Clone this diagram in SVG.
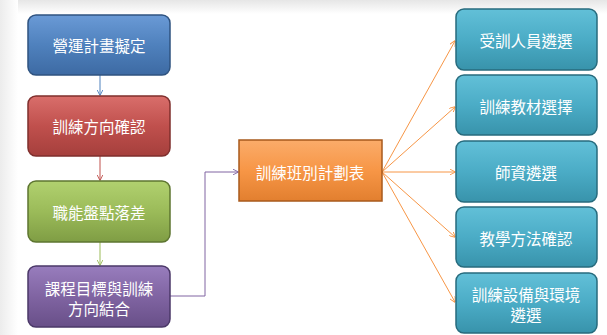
<svg xmlns="http://www.w3.org/2000/svg" width="607" height="335" viewBox="0 0 607 335">
<defs>
<linearGradient id="gb" x1="0" y1="0" x2="0" y2="1"><stop offset="0" stop-color="#6a9ad6"/><stop offset="0.5" stop-color="#4f81bd"/><stop offset="1" stop-color="#3d6aa3"/></linearGradient>
<linearGradient id="gr" x1="0" y1="0" x2="0" y2="1"><stop offset="0" stop-color="#d96e6b"/><stop offset="0.5" stop-color="#c0504d"/><stop offset="1" stop-color="#a53f3c"/></linearGradient>
<linearGradient id="gg" x1="0" y1="0" x2="0" y2="1"><stop offset="0" stop-color="#b1d16f"/><stop offset="0.5" stop-color="#9bbb59"/><stop offset="1" stop-color="#7f9d44"/></linearGradient>
<linearGradient id="gp" x1="0" y1="0" x2="0" y2="1"><stop offset="0" stop-color="#987dbd"/><stop offset="0.5" stop-color="#8064a2"/><stop offset="1" stop-color="#684f88"/></linearGradient>
<linearGradient id="go" x1="0" y1="0" x2="0" y2="1"><stop offset="0" stop-color="#fbac6a"/><stop offset="0.5" stop-color="#f79646"/><stop offset="1" stop-color="#e27f2f"/></linearGradient>
<linearGradient id="gt" x1="0" y1="0" x2="0" y2="1"><stop offset="0" stop-color="#62c0d8"/><stop offset="0.5" stop-color="#4bacc6"/><stop offset="1" stop-color="#3893ab"/></linearGradient>
<linearGradient id="bgtop" x1="0" y1="0" x2="0" y2="1"><stop offset="0" stop-color="#e6e6e6"/><stop offset="1" stop-color="#ffffff"/></linearGradient>
<linearGradient id="bgleft" x1="0" y1="0" x2="1" y2="0"><stop offset="0" stop-color="#ececec"/><stop offset="1" stop-color="#ffffff"/></linearGradient>
<marker id="ab" viewBox="0 0 10 10" refX="9" refY="5" markerWidth="6" markerHeight="6" orient="auto"><path d="M0,0 L10,5 L0,10" fill="none" stroke="#4f81bd" stroke-width="1.5"/></marker>
<marker id="ar" viewBox="0 0 10 10" refX="9" refY="5" markerWidth="6" markerHeight="6" orient="auto"><path d="M0,0 L10,5 L0,10" fill="none" stroke="#c0504d" stroke-width="1.5"/></marker>
<marker id="ag" viewBox="0 0 10 10" refX="9" refY="5" markerWidth="6" markerHeight="6" orient="auto"><path d="M0,0 L10,5 L0,10" fill="none" stroke="#9bbb59" stroke-width="1.5"/></marker>
<marker id="ap" viewBox="0 0 10 10" refX="9" refY="5" markerWidth="6" markerHeight="6" orient="auto"><path d="M0,0 L10,5 L0,10" fill="none" stroke="#8064a2" stroke-width="1.5"/></marker>
<marker id="ao" viewBox="0 0 10 10" refX="9" refY="5" markerWidth="6" markerHeight="6" orient="auto"><path d="M0,0 L10,5 L0,10" fill="none" stroke="#f79646" stroke-width="1.5"/></marker>
</defs>
<style>
.t{font-family:"Noto Sans CJK TC","Noto Sans CJK SC",sans-serif;font-size:15.5px;fill:#ffffff;text-anchor:middle;dominant-baseline:central}
.c{fill:none;stroke-width:1}
</style>
<rect width="607" height="335" fill="#ffffff"/>
<rect x="0" y="0" width="607" height="14" fill="url(#bgtop)"/>
<rect x="0" y="0" width="18" height="335" fill="url(#bgleft)"/>
<g id="connectors">
<line class="c" x1="100" y1="75" x2="100" y2="95" stroke="#4f81bd" marker-end="url(#ab)"/>
<line class="c" x1="100" y1="156" x2="100" y2="180" stroke="#c0504d" marker-end="url(#ar)"/>
<line class="c" x1="100" y1="242" x2="100" y2="265" stroke="#9bbb59" marker-end="url(#ag)"/>
<polyline class="c" points="170,296 205,296 205,172 238,172" stroke="#8064a2" marker-end="url(#ap)"/>
<line class="c" x1="382" y1="172" x2="455" y2="41" stroke="#f79646" marker-end="url(#ao)"/>
<line class="c" x1="382" y1="172" x2="455" y2="107" stroke="#f79646" marker-end="url(#ao)"/>
<line class="c" x1="382" y1="172" x2="455" y2="172" stroke="#f79646" marker-end="url(#ao)"/>
<line class="c" x1="382" y1="172" x2="455" y2="237" stroke="#f79646" marker-end="url(#ao)"/>
<line class="c" x1="382" y1="172" x2="455" y2="302" stroke="#f79646" marker-end="url(#ao)"/>
</g>
<g id="n1"><rect x="28" y="15" width="142" height="60" rx="8" fill="url(#gb)" stroke="#2f5380" stroke-width="1.5"/><text class="t" x="99" y="45">營運計畫擬定</text></g>
<g id="n2"><rect x="28" y="96" width="142" height="60" rx="8" fill="url(#gr)" stroke="#7f2f2d" stroke-width="1.5"/><text class="t" x="99" y="126">訓練方向確認</text></g>
<g id="n3"><rect x="28" y="181" width="142" height="61" rx="8" fill="url(#gg)" stroke="#5d7530" stroke-width="1.5"/><text class="t" x="99" y="212">職能盤點落差</text></g>
<g id="n4"><rect x="28" y="266" width="142" height="61" rx="8" fill="url(#gp)" stroke="#4b3868" stroke-width="1.5"/><text class="t" x="99" y="288">課程目標與訓練</text><text class="t" x="99" y="308">方向結合</text></g>
<g id="n5"><rect x="239" y="140" width="143" height="61" fill="url(#go)" stroke="#a85a1c" stroke-width="1.5"/><text class="t" x="310" y="172">訓練班別計劃表</text></g>
<g id="n6"><rect x="456" y="9" width="141" height="61" rx="8" fill="url(#gt)" stroke="#276b7d" stroke-width="1.5"/><text class="t" x="526" y="40">受訓人員遴選</text></g>
<g id="n7"><rect x="456" y="75" width="141" height="60" rx="8" fill="url(#gt)" stroke="#276b7d" stroke-width="1.5"/><text class="t" x="526" y="106">訓練教材選擇</text></g>
<g id="n8"><rect x="456" y="141" width="141" height="61" rx="8" fill="url(#gt)" stroke="#276b7d" stroke-width="1.5"/><text class="t" x="526" y="172">師資遴選</text></g>
<g id="n9"><rect x="456" y="207" width="141" height="60" rx="8" fill="url(#gt)" stroke="#276b7d" stroke-width="1.5"/><text class="t" x="526" y="238">教學方法確認</text></g>
<g id="n10"><rect x="456" y="273" width="141" height="60" rx="8" fill="url(#gt)" stroke="#276b7d" stroke-width="1.5"/><text class="t" x="526" y="294">訓練設備與環境</text><text class="t" x="526" y="314">遴選</text></g>
</svg>
